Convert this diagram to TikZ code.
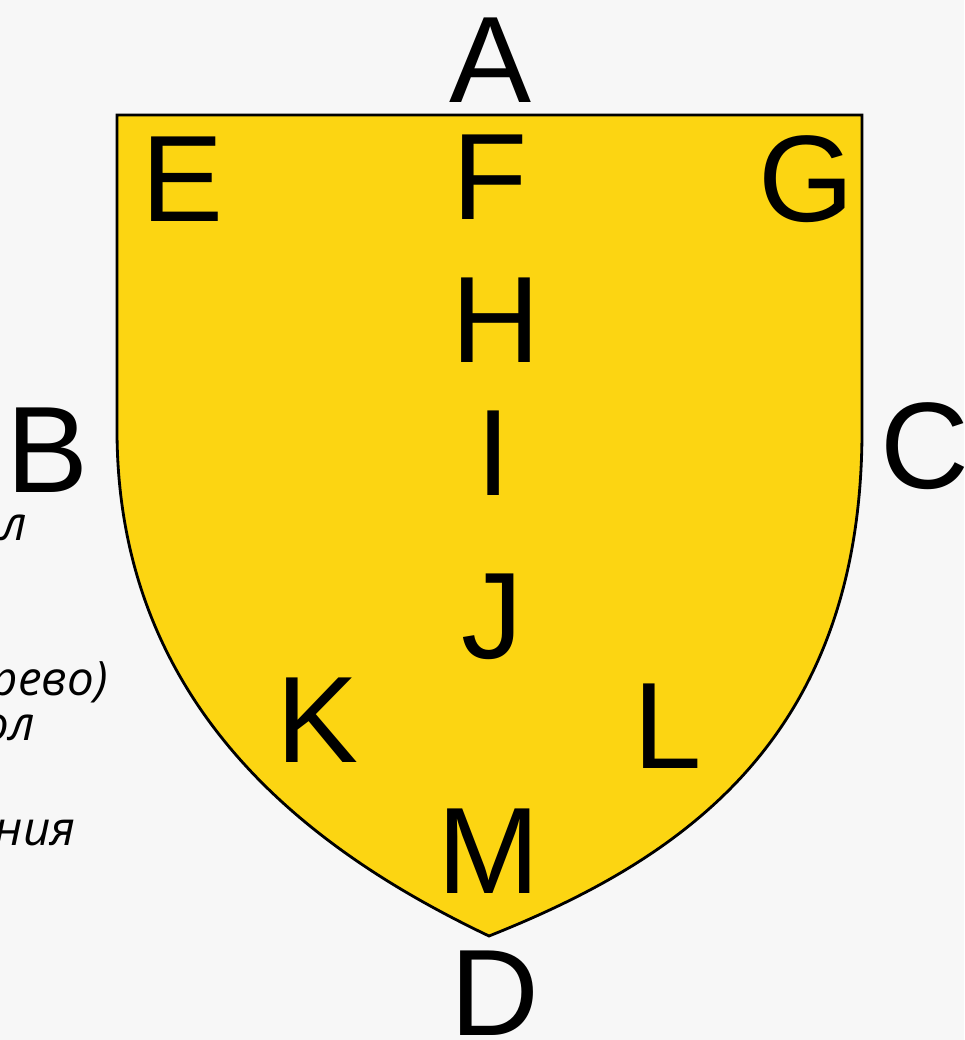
\documentclass[tikz,border=0pt]{standalone}
\usepackage{fontspec}
\setmainfont{Liberation Sans}
\newfontfamily\cyrfont{Open Sans}
\definecolor{shieldyellow}{RGB}{252,213,18}
\definecolor{paper}{RGB}{247,247,247}
\begin{document}
\begin{tikzpicture}[x=0.02cm, y=-0.02cm,
    shield/.style={draw=black, line width=1.6pt, fill=shieldyellow, line join=miter},
    letter/.style={font=\fontsize{70}{70}\selectfont, anchor=base, inner sep=0pt},
    side text/.style={font=\cyrfont\itshape\fontsize{27}{27}\selectfont, anchor=base east, inner sep=0pt}
]
    \useasboundingbox (0,0) rectangle (964,1040);
    \clip (0,0) rectangle (964,1040);
    \fill[paper] (0,0) rectangle (964,1040);

    % shield
    \draw[shield] (117,115) -- (862,115) -- (862,430)
        .. controls (862,740) and (680,860) .. (489,936)
        .. controls (330,860) and (117,720) .. (117,430) -- cycle;

    % letters
    \node[letter] (lblA) at (491,103) {A};
    \node[letter] (lblE) at (183,222) {E};
    \node[letter] (lblF) at (490,220) {F};
    \node[letter] (lblG) at (806,222) {G};
    \node[letter] (lblH) at (496,362) {H};
    \node[letter] (lblB) at (48,492) {B};
    \node[letter] (lblI) at (494,495) {I};
    \node[letter] (lblC) at (925,488) {C};
    \node[letter] (lblJ) at (492,658) {J};
    \node[letter] (lblK) at (318,762) {K};
    \node[letter] (lblL) at (668,768) {L};
    \node[letter] (lblM) at (489,893) {M};
    \node[letter] (lblD) at (495,1035) {D};

    % cut-off text on the left
    \node[side text] (txtA) at (27,540) {ол};
    \node[side text] (txtB) at (108,695) {рево)};
    \node[side text] (txtC) at (35,740) {ол};
    \node[side text] (txtD) at (76,845) {ания};
\end{tikzpicture}
\end{document}
